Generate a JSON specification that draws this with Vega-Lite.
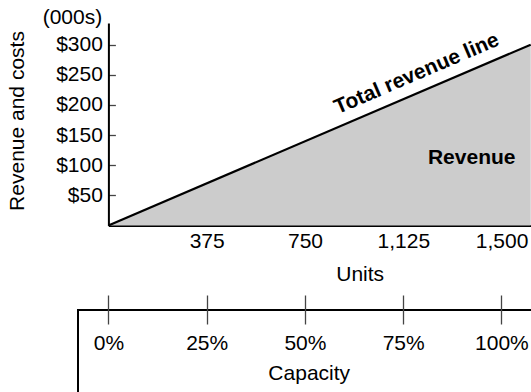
{
  "$schema": "https://vega.github.io/schema/vega-lite/v6.json",
  "padding": {"left": 6, "top": 6, "right": 0, "bottom": 0},
  "bounds": "flush",
  "spacing": 84,
  "background": "white",
  "config": {
    "font": "Liberation Sans",
    "view": {"stroke": null},
    "axis": {
      "labelFont": "Liberation Sans",
      "titleFont": "Liberation Sans",
      "labelFontSize": 21,
      "titleFontSize": 21,
      "labelColor": "#000",
      "titleColor": "#000",
      "titleFontWeight": "normal",
      "grid": false,
      "domainColor": "#000",
      "domainWidth": 2,
      "tickColor": "#444",
      "tickWidth": 1.3,
      "labelFlush": false,
      "labelOverlap": false,
      "zindex": 1
    }
  },
  "vconcat": [
    {
      "width": 452.7,
      "height": 202.5,
      "title": {
        "text": "(000s)",
        "anchor": "start",
        "frame": "group",
        "dx": -35.3,
        "dy": 21.5,
        "offset": 0,
        "baseline": "alphabetic",
        "font": "Liberation Sans",
        "fontSize": 21,
        "fontWeight": "normal",
        "color": "#000"
      },
      "data": {"values": [
        {"units": 0, "revenue": 0},
        {"units": 1611, "revenue": 300}
      ]},
      "encoding": {
        "x": {
          "field": "units",
          "type": "quantitative",
          "scale": {"domain": [0, 1611], "range": [30.4, 452.7], "nice": false, "zero": false},
          "axis": {
            "values": [375, 750, 1125, 1500],
            "labelExpr": "format(datum.value, ',d')",
            "tickSize": -7,
            "labelPadding": 12.45,
            "title": "Units",
            "titleX": 281.7,
            "titleY": 48.9,
            "titleBaseline": "middle",
            "titleAlign": "center"
          }
        },
        "y": {
          "field": "revenue",
          "type": "quantitative",
          "scale": {"domain": [0, 336], "nice": false},
          "axis": {
            "values": [50, 100, 150, 200, 250, 300],
            "labelExpr": "'$' + datum.value",
            "tickSize": -7,
            "labelPadding": 13,
            "offset": -30.4,
            "title": "Revenue and costs",
            "titleAngle": 270,
            "titleX": -91.15,
            "titleY": 97.5,
            "titleBaseline": "middle",
            "titleAlign": "center"
          }
        }
      },
      "layer": [
        {"mark": {"type": "area", "color": "#cccccc"}},
        {"mark": {"type": "line", "color": "#000", "strokeWidth": 2.2}},
        {
          "data": {"values": [{"label": "Total revenue line", "units": 1203.6, "revenue": 224.1}]},
          "mark": {"type": "text", "angle": 336.8, "align": "center", "baseline": "middle", "dy": -18, "fontSize": 21, "fontWeight": "bold", "font": "Liberation Sans", "color": "#000"},
          "encoding": {"text": {"field": "label"}}
        },
        {
          "data": {"values": [{"label": "Revenue", "units": 1386, "revenue": 112.5}]},
          "mark": {"type": "text", "align": "center", "baseline": "middle", "fontSize": 21, "fontWeight": "bold", "font": "Liberation Sans", "color": "#000"},
          "encoding": {"text": {"field": "label"}}
        }
      ]
    },
    {
      "width": 470,
      "height": 100,
      "view": {"stroke": "#000", "strokeWidth": 2},
      "data": {"values": [
        {"capacity": 0}, {"capacity": 25}, {"capacity": 50}, {"capacity": 75}, {"capacity": 100}
      ]},
      "mark": {"type": "point", "opacity": 0},
      "encoding": {
        "x": {
          "field": "capacity",
          "type": "quantitative",
          "scale": {"domain": [0, 100], "range": [30.4, 423.4], "nice": false, "zero": false},
          "axis": {
            "orient": "bottom",
            "offset": -115,
            "values": [0, 25, 50, 75, 100],
            "labelExpr": "datum.value + '%'",
            "domain": false,
            "tickSize": 29,
            "labelPadding": 8.8,
            "title": "Capacity",
            "titleX": 230.7,
            "titleY": 78.2,
            "titleBaseline": "middle",
            "titleAlign": "center"
          }
        }
      }
    }
  ]
}
